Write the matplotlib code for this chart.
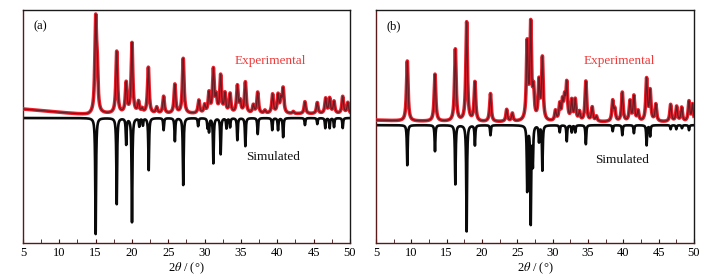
import numpy as np
import matplotlib
matplotlib.use("Agg")
import matplotlib.pyplot as plt

plt.rcParams['font.family'] = ['Liberation Serif', 'DejaVu Serif']
plt.rcParams['mathtext.fontset'] = 'stix'

# ---------------- data ----------------
# panel (a)
exp_a_pos = [15.0, 15.2, 17.9, 19.2, 20.0, 20.9, 21.4, 22.25, 23.4, 24.35, 25.9, 27.05,
             29.2, 30.0, 30.6, 31.2, 31.6, 32.2, 32.8, 33.5, 34.5, 34.9, 35.6, 36.7, 37.3,
             38.3, 39.35, 40.1, 40.5, 40.8, 42.2, 43.8, 45.5, 46.65, 47.2, 47.8, 49.0, 49.7]
exp_a_int = [88, 40, 62, 30, 70, 11, 4, 46, 6, 17, 29, 55,
             13, 8, 20, 43, 15, 37, 19, 19, 27, 11, 31, 8, 21,
             3, 19, 18, 13, 24, 2, 12, 11, 15, 15, 12, 17, 11]
sim_a_pos = [15.0, 17.9, 19.2, 20.0, 21.0, 21.5, 22.3, 24.35, 25.9, 27.05, 29.1, 30.4,
             30.6, 31.2, 32.2, 33.0, 33.5, 34.5, 35.6, 37.3, 39.3, 40.1, 40.8, 43.8,
             45.5, 46.6, 47.2, 47.8, 49.0]
sim_a_int = [116, 86, 26, 104, 8, 7, 52, 12, 23, 67, 8, 9,
             13, 45, 36, 10, 9, 22, 28, 16, 12, 12, 19, 7,
             6, 10, 10, 9, 10]
bg_a_x = [5, 8, 11, 14, 16, 50]
bg_a_y = [9, 7, 5, 3, 4, 4]

# panel (b)
exp_b_pos = [9.43, 13.35, 16.23, 17.83, 19.0, 21.2, 23.5, 24.3, 26.4, 26.9, 27.3, 28.07,
             28.55, 30.4, 31.0, 31.4, 31.7, 32.0, 32.7, 33.2, 33.8, 34.7, 35.6, 36.2,
             38.5, 38.8, 39.86, 40.95, 41.5, 42.1, 43.3, 43.8, 44.6, 46.7, 47.55, 48.26,
             49.3, 49.8]
exp_b_int = [60, 47, 72, 99, 39, 28, 12, 8, 76, 94, 28, 38,
             62, 10, 16, 18, 20, 36, 20, 21, 9, 40, 14, 5,
             20, 11, 29, 20, 25, 10, 42, 30, 17, 17, 15, 14,
             20, 17]
sim_b_pos = [9.43, 13.35, 16.23, 17.83, 19.0, 21.2, 26.4, 26.9, 27.2, 28.07, 28.55,
             31.0, 32.0, 32.7, 33.2, 34.7, 38.5, 39.86, 41.5, 43.3, 43.8, 46.7, 47.5,
             48.3, 49.3]
sim_b_int = [40, 26, 59, 106, 20, 10, 65, 97, 38, 16, 45,
             7, 16, 7, 7, 19, 6, 10, 8, 20, 11, 4, 4,
             3, 5]
bg_b_x = [5, 9, 20, 30, 40, 50]
bg_b_y = [5, 4, 3, 3, 3, 3]

x_ticks = [5, 10, 15, 20, 25, 30, 35, 40, 45, 50]
panel_labels = ['(a)', '(b)']

# ---------------- plotting ----------------
two_theta = np.linspace(5, 50, 9000)


def profile(pos, inten, fwhm):
    g = fwhm / 2.0
    y = np.zeros_like(two_theta)
    for p, h in zip(pos, inten):
        y += h * g**2 / ((two_theta - p)**2 + g**2)
    return y


fig = plt.figure(figsize=(7.16, 2.8), dpi=100)
rects = [[0.0321, 0.1321, 0.4567, 0.8321], [0.5251, 0.1321, 0.4441, 0.8321]]
panels = [
    (exp_a_pos, exp_a_int, sim_a_pos, sim_a_int, bg_a_x, bg_a_y, (-125, 108)),
    (exp_b_pos, exp_b_int, sim_b_pos, sim_b_int, bg_b_x, bg_b_y, (-117.7, 115)),
]
exp_text_y = [118 - 61, 125 - 61]
sim_text_y = [118 - 157, 125 - 160]
exp_text_x = [39.1, 39.5]
sim_text_x = [39.4, 39.8]

for i, (ep, ei, sp, si, bx, by, ylim) in enumerate(panels):
    ax = fig.add_axes(rects[i])
    exp_curve = np.interp(two_theta, bx, by) + profile(ep, ei, 0.26)
    sim_curve = -profile(sp, si, 0.13)
    ax.plot(two_theta, exp_curve, color='#e8202c', lw=2.6, zorder=3)
    ax.plot(two_theta, exp_curve, color='#6a1c24', lw=0.9, zorder=4)
    ax.plot(two_theta, sim_curve, color='#0a0a0a', lw=1.9, zorder=2)
    ax.set_xlim(5, 50)
    ax.set_ylim(*ylim)
    ax.set_xticks(x_ticks)
    ax.set_xticks(np.arange(7.5, 50, 5), minor=True)
    ax.tick_params(axis='x', which='both', direction='in', length=3, labelsize=9,
                   pad=3, color='#3a1010')
    ax.set_yticks([])
    for side in ['left', 'bottom']:
        ax.spines[side].set_color('#5a1a1a')
    for side in ['top', 'right']:
        ax.spines[side].set_color('#1a1a1a')
    for s in ax.spines.values():
        s.set_linewidth(1.0)
    ax.set_xlabel(r'2$\theta$ / (°)', fontsize=9, labelpad=1)
    ax.text(0.033, 0.93, panel_labels[i], transform=ax.transAxes, fontsize=9,
            ha='left', va='center')
    ax.text(exp_text_x[i], exp_text_y[i], 'Experimental', color='#ee3b3b', fontsize=9.5,
            ha='center', va='center')
    ax.text(sim_text_x[i], sim_text_y[i], 'Simulated', color='#111111', fontsize=9.5,
            ha='center', va='center')

fig.savefig('out.png', dpi=100)
